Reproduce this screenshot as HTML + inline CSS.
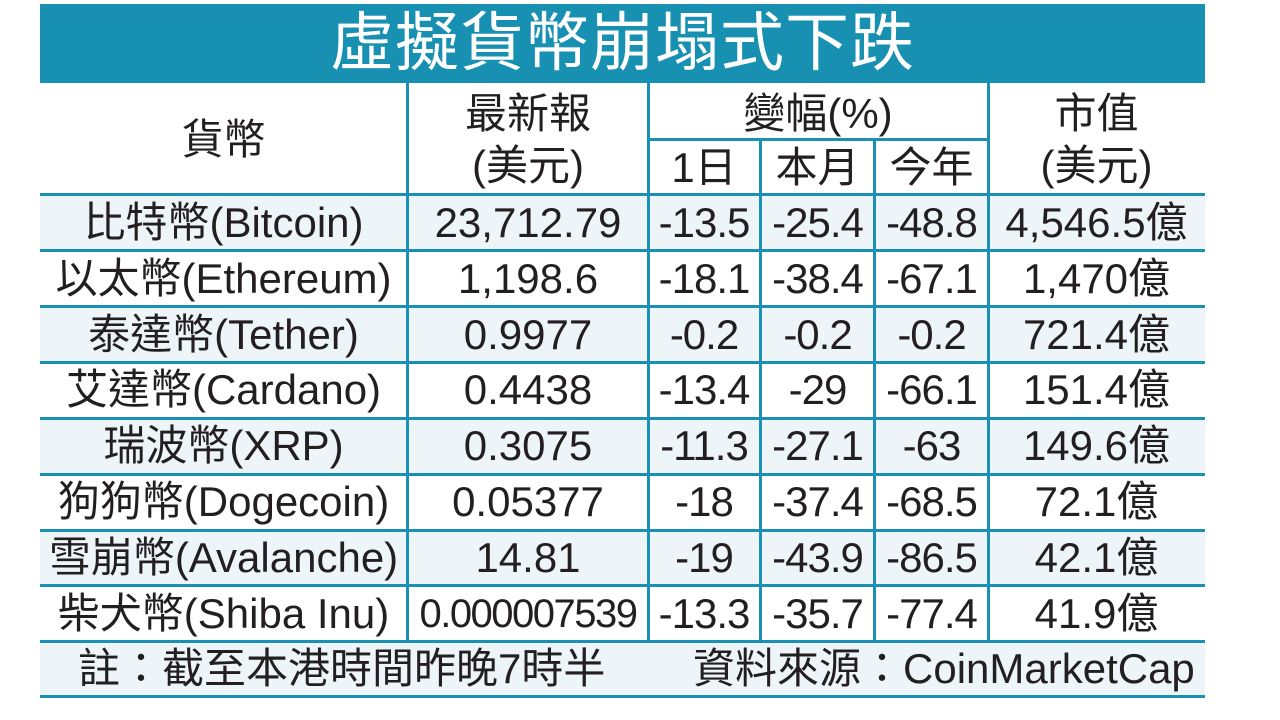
<!DOCTYPE html>
<html><head><meta charset="utf-8"><style>
body{margin:0;width:1280px;height:720px;background:#fff;position:relative;overflow:hidden;font-family:"Liberation Sans","Noto Sans CJK TC",sans-serif;color:#231f20}
.t{position:absolute;left:40px;top:4px;width:1165px;height:79px;background:#1790b2;color:#fff;font-size:64px;text-align:center;line-height:79px;letter-spacing:1px}
.row{position:absolute;left:40px;width:1165px;height:56px}
.c{position:absolute;text-align:center;font-size:42px;white-space:nowrap;line-height:56px}
.h{position:absolute;height:3px;background:#1a90b5}
.v{position:absolute;width:3px;background:#1a90b5}
</style></head><body>
<div class="t">虛擬貨幣崩塌式下跌</div>
<div class="row" style="top:195px;background:#edf5f9"></div>
<div class="row" style="top:307px;background:#edf5f9"></div>
<div class="row" style="top:418px;background:#edf5f9"></div>
<div class="row" style="top:530px;background:#edf5f9"></div>
<div class="row" style="top:641px;height:55px;background:#edf5f9"></div>

<div class="h" style="left:40px;width:1165px;top:193px"></div>
<div class="h" style="left:40px;width:1165px;top:249px"></div>
<div class="h" style="left:40px;width:1165px;top:305px"></div>
<div class="h" style="left:40px;width:1165px;top:361px"></div>
<div class="h" style="left:40px;width:1165px;top:417px"></div>
<div class="h" style="left:40px;width:1165px;top:473px"></div>
<div class="h" style="left:40px;width:1165px;top:529px"></div>
<div class="h" style="left:40px;width:1165px;top:584px"></div>
<div class="h" style="left:40px;width:1165px;top:640px"></div>
<div class="h" style="left:40px;width:1165px;top:695px"></div>
<div class="h" style="left:648px;width:340px;top:138px"></div>

<div class="v" style="left:406px;top:83px;height:558px"></div>
<div class="v" style="left:647px;top:83px;height:558px"></div>
<div class="v" style="left:759px;top:138px;height:503px"></div>
<div class="v" style="left:873px;top:138px;height:503px"></div>
<div class="v" style="left:987px;top:83px;height:558px"></div>

<div class="c" style="left:40px;width:367px;top:112px">貨幣</div>
<div class="c" style="left:408px;width:240px;top:86px">最新報</div>
<div class="c" style="left:408px;width:240px;top:138px">(美元)</div>
<div class="c" style="left:648px;width:340px;top:86px">變幅(%)</div>
<div class="c" style="left:648px;width:112px;top:140px">1日</div>
<div class="c" style="left:761px;width:113px;top:140px">本月</div>
<div class="c" style="left:875px;width:113px;top:140px">今年</div>
<div class="c" style="left:988px;width:217px;top:86px">市值</div>
<div class="c" style="left:988px;width:217px;top:138px">(美元)</div>

<div id="body"></div>
<script>
var d=[["比特幣(Bitcoin)","23,712.79","-13.5","-25.4","-48.8","4,546.5億"],
["以太幣(Ethereum)","1,198.6","-18.1","-38.4","-67.1","1,470億"],
["泰達幣(Tether)","0.9977","-0.2","-0.2","-0.2","721.4億"],
["艾達幣(Cardano)","0.4438","-13.4","-29","-66.1","151.4億"],
["瑞波幣(XRP)","0.3075","-11.3","-27.1","-63","149.6億"],
["狗狗幣(Dogecoin)","0.05377","-18","-37.4","-68.5","72.1億"],
["雪崩幣(Avalanche)","14.81","-19","-43.9","-86.5","42.1億"],
["柴犬幣(Shiba Inu)","0.000007539","-13.3","-35.7","-77.4","41.9億"]];
var cols=[[40,367],[408,240],[648,112],[761,113],[875,113],[988,217]];
var h="";
d.forEach(function(r,i){var top=195+i*55.8;r.forEach(function(v,j){
var fs=(j==1&&v.length>10)?"font-size:40px;letter-spacing:-1.5px;":"";
if(j>=2&&j<=4)fs="letter-spacing:-1px;";
if(j==0&&v.length>15)fs="letter-spacing:-0.5px;";
h+='<div class="c" style="'+fs+'left:'+cols[j][0]+'px;width:'+cols[j][1]+'px;top:'+top+'px">'+v+'</div>';});});
document.getElementById('body').innerHTML=h;
</script>
<div class="c" style="left:78px;top:641px;line-height:55px">註：截至本港時間昨晚7時半</div>
<div class="c" style="left:693px;top:641px;line-height:55px">資料來源：CoinMarketCap</div>
</body></html>
